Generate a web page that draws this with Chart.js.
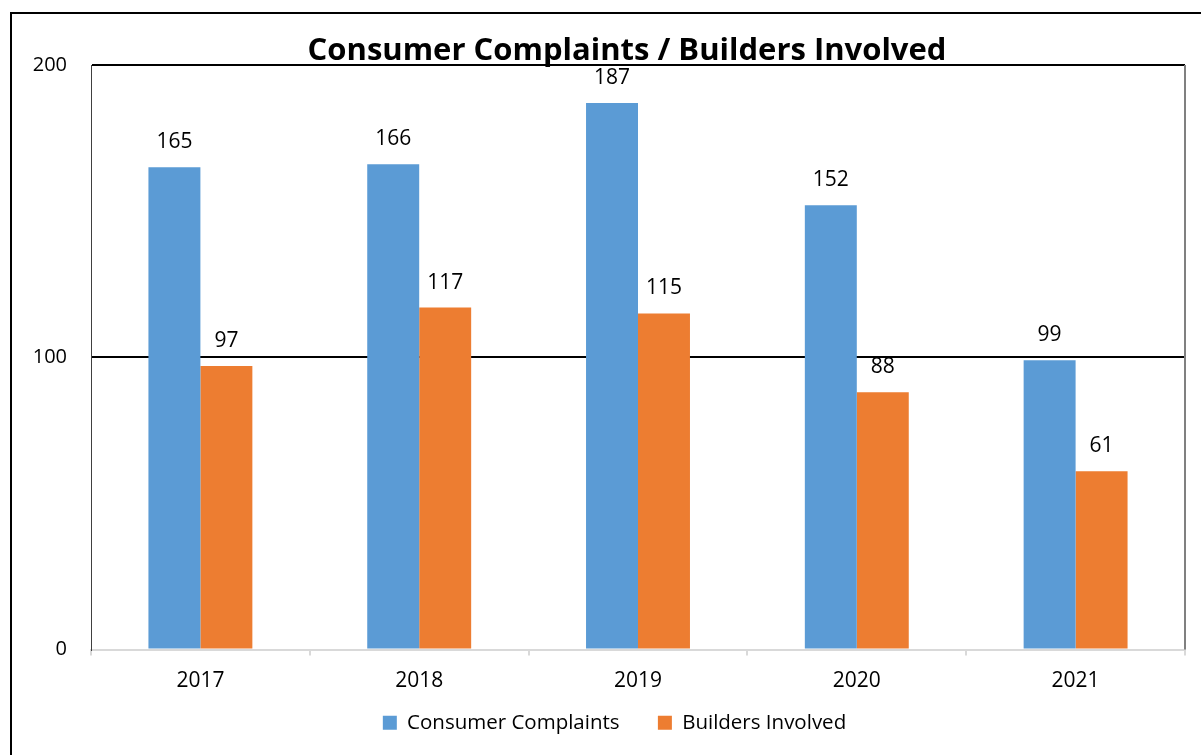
<!DOCTYPE html>
<html>
<head>
<meta charset="utf-8">
<script src="https://cdn.jsdelivr.net/npm/chart.js@4/dist/chart.umd.min.js"></script>
<style>
  html, body { margin: 0; padding: 0; background: #fff; }
  #wrap { position: relative; width: 1201px; height: 755px; overflow: hidden; }
  #frame { position: absolute; left: 10px; top: 12px; width: 1300px; height: 900px; border: 2px solid #000; pointer-events: none; }
  canvas { position: absolute; left: 0; top: 0; }
</style>
</head>
<body>
<div id="wrap">
  <canvas id="chart" width="1201" height="755"></canvas>
  <div id="frame"></div>
</div>
<script>
// chart values
var years = ['2017', '2018', '2019', '2020', '2021'];
var complaints = [165, 166, 187, 152, 99];
var builders = [97, 117, 115, 88, 61];
var yTicks = [0, 100, 200];
var chartTitle = 'Consumer Complaints / Builders Involved';

var FONT = "'Open Sans', 'Noto Sans', sans-serif";

// value labels above each bar
var barLabels = {
  id: 'barLabels',
  afterDatasetsDraw: function (chart) {
    var ctx = chart.ctx;
    ctx.save();
    ctx.font = '21px ' + FONT;
    ctx.fillStyle = '#000';
    ctx.textAlign = 'center';
    ctx.textBaseline = 'middle';
    chart.data.datasets.forEach(function (ds, i) {
      chart.getDatasetMeta(i).data.forEach(function (bar, j) {
        ctx.fillText(ds.data[j], bar.x, bar.y - 25);
      });
    });
    ctx.restore();
  }
};

// title (sits a bit right of canvas centre, over the plot) and right edge of plot box
var plotDecor = {
  id: 'plotDecor',
  afterLayout: function (chart) {
    // legend sits centred under the plot rather than the canvas
    if (chart.legend) {
      chart.legend.left += 22;
      chart.legend.right += 22;
    }
  },
  afterDraw: function (chart) {
    var a = chart.chartArea, ctx = chart.ctx;
    ctx.save();
    ctx.strokeStyle = '#808080';
    ctx.lineWidth = 2;
    ctx.beginPath();
    ctx.moveTo(a.right, a.top);
    ctx.lineTo(a.right, a.bottom);
    ctx.stroke();

    ctx.font = 'bold 31px ' + FONT;
    ctx.fillStyle = '#000';
    ctx.textAlign = 'center';
    ctx.textBaseline = 'alphabetic';
    ctx.fillText(chartTitle, a.left + (a.right - a.left) / 2 - 11, a.top - 5);
    ctx.restore();
  }
};

new Chart(document.getElementById('chart'), {
  type: 'bar',
  data: {
    labels: years,
    datasets: [{
      label: 'Consumer Complaints',
      data: complaints,
      backgroundColor: '#5B9BD5'
    }, {
      label: 'Builders Involved',
      data: builders,
      backgroundColor: '#ED7D31'
    }]
  },
  options: {
    responsive: false,
    animation: false,
    layout: { padding: { left: 0, right: 16, top: 65, bottom: 12 } },
    datasets: { bar: { barPercentage: 1, categoryPercentage: 0.475 } },
    scales: {
      x: {
        afterFit: function (scale) { scale.height = 46; },
        grid: { drawOnChartArea: false, drawTicks: true, tickLength: 6, color: '#d9d9d9', lineWidth: 2 },
        border: { color: '#d9d9d9', width: 2 },
        ticks: { color: '#000', font: { family: FONT, size: 21 }, padding: 13 }
      },
      y: {
        min: 0,
        max: 200,
        afterBuildTicks: function (scale) {
          scale.ticks = yTicks.map(function (v) { return { value: v }; });
        },
        afterFit: function (scale) { scale.width = 91; },
        grid: {
          drawTicks: false,
          lineWidth: 2,
          color: function (c) { return c.tick && c.tick.value === 0 ? 'rgba(0,0,0,0)' : '#000'; }
        },
        border: { color: '#404040', width: 1 },
        ticks: { color: '#000', font: { family: FONT, size: 20 }, padding: 24 }
      }
    },
    plugins: {
      title: { display: false },
      legend: {
        position: 'bottom',
        labels: {
          color: '#000',
          boxWidth: 14,
          boxHeight: 14,
          padding: 17,
          font: { family: FONT, size: 20.5 },
          generateLabels: function (chart) {
            var items = Chart.defaults.plugins.legend.labels.generateLabels(chart);
            // wider gap between the two entries
            items[0].text += '    ';
            return items;
          }
        }
      },
      tooltip: { enabled: false }
    }
  },
  plugins: [barLabels, plotDecor]
});
</script>
</body>
</html>
